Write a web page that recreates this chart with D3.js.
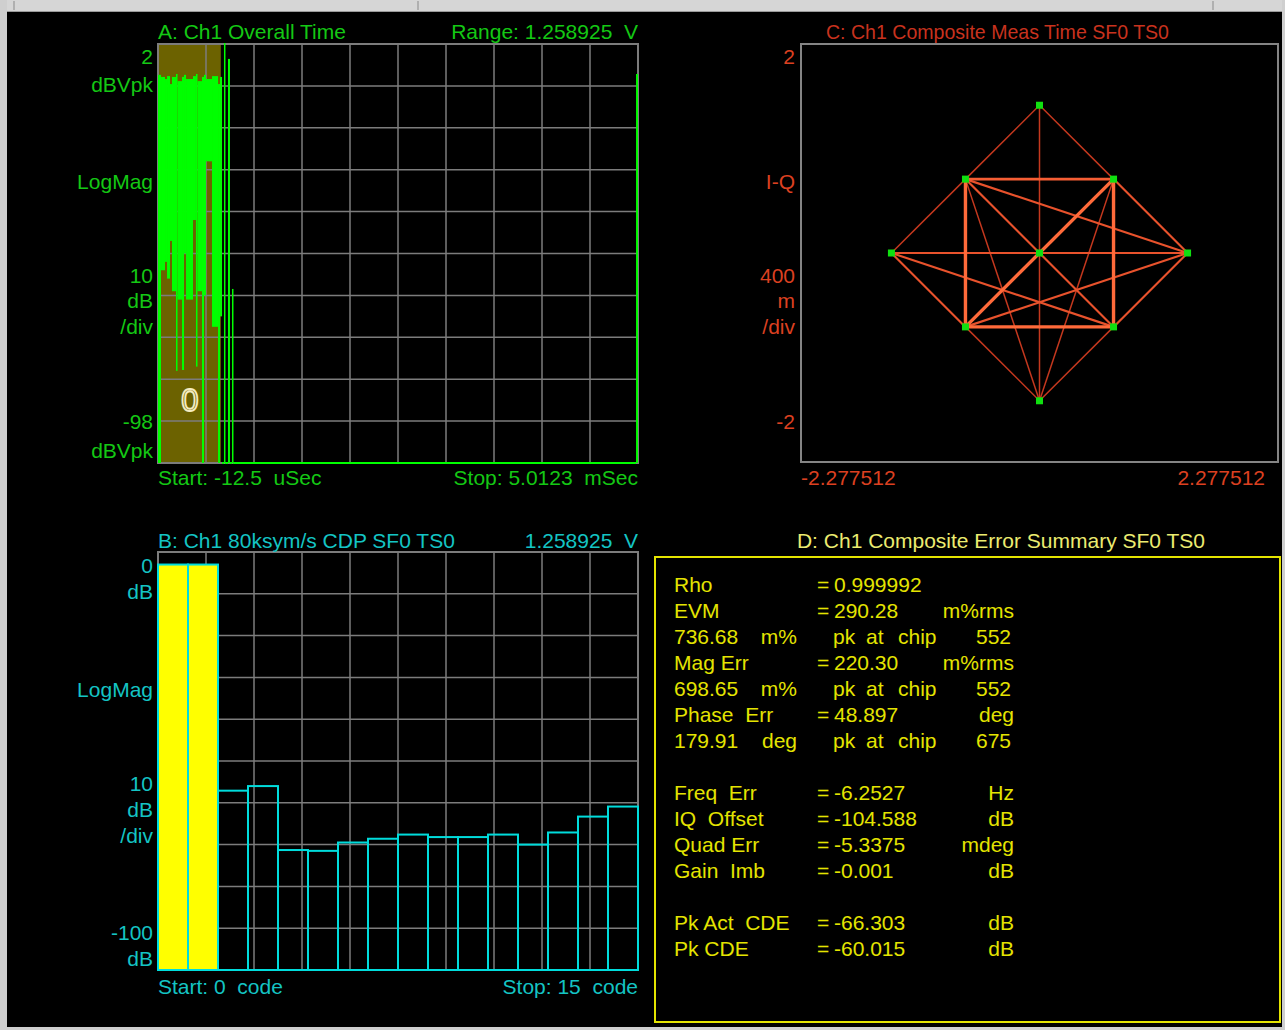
<!DOCTYPE html>
<html>
<head>
<meta charset="utf-8">
<script src="https://cdn.jsdelivr.net/npm/d3@7"></script>
<style>
  html, body { margin: 0; padding: 0; background: #000; }
  svg { display: block; }
  text {
    font-family: "Liberation Sans", Arial, sans-serif;
    font-size: 21px;
    white-space: pre;
  }
</style>
</head>
<body>
<svg id="chart" width="1285" height="1030"></svg>
<script>
// ---------------- Trace A: Ch1 overall time (LogMag, dBVpk) ----------------
const timeSpan = [-12.5, 5012.3];          // uSec, start / stop
const levelSpan = [2, -98];                // dBVpk, top / bottom
const gateSpan = [-12.5, 645];             // uSec, time gate (shaded)
// binned envelope of the time record: bin start (uSec), peak and floor (dBVpk)
const traceTime  = [-12.5, 19, 61, 82, 113, 134, 176, 192, 239, 260, 281, 354, 385, 401, 448, 469, 490, 553, 616, 637, 658, 678, 689, 720, 741, 762, 773, 4992];
const tracePeak  = [-5.6, -6.1, -6.6, -5.9, -7.8, -6.1, -5.4, -7.1, -6.1, -5.6, -6.6, -5.9, -5.4, -7.1, -6.1, -5.6, -6.6, -5.9, -7.8, -6.1, -98, 2, -98, -1.8, -98, -56.7, -98, -5.4];
const traceFloor = [-98, -52, -50, -54, -45, -57, -76, -59, -75.8, -48, -59, -40, -75, -57, -98, -58, -26, -65.5, -98, -63, -98, -98, -98, -98, -98, -98, -98, -98];
const markerA = { time: 320, level: -83, label: "0" };

// ---------------- Trace B: code domain power (dB) ----------------
const codeIndex = [0, 1, 2, 3, 4, 5, 6, 7, 8, 9, 10, 11, 12, 13, 14, 15];
const codePower = [-3.0, -3.0, -57.1, -56.0, -71.3, -71.5, -69.5, -68.6, -67.6, -68.2, -68.2, -67.6, -70.0, -67.1, -63.3, -60.9];
const activeCodes = [0, 1];
const cdpSpan = [0, -100];                 // dB, top / bottom

// ---------------- Trace C: composite constellation (I-Q) ----------------
const iqSpanI = [-2.277512, 2.277512];
const iqSpanQ = [-2, 2];
const symbolI = [0, -0.707, 0.707, -1.414, 0, 1.414, -0.707, 0.707, 0];
const symbolQ = [1.414, 0.707, 0.707, 0, 0, 0, -0.707, -0.707, -1.414];
// symbol-to-symbol transitions: [from, to, relative hit count]
const transitions = [
  [0, 1, 1], [0, 2, 1], [0, 8, 1],
  [1, 3, 1], [3, 6, 2], [2, 5, 2], [5, 7, 2],
  [8, 6, 1], [8, 7, 1], [8, 1, 1], [8, 2, 1],
  [1, 5, 2], [3, 7, 2], [6, 5, 2],
  [3, 5, 2], [1, 7, 2],
  [1, 2, 3], [6, 7, 4], [1, 6, 4], [2, 7, 4], [2, 6, 4]
];

// ---------------- Table D: composite error summary ----------------
const summaryLabels = ["Rho", "EVM", "736.68", "Mag Err", "698.65", "Phase  Err", "179.91", "", "Freq  Err", "IQ  Offset", "Quad Err", "Gain  Imb", "", "Pk Act  CDE", "Pk CDE"];
const summaryValues = ["0.999992", "290.28", "", "220.30", "", "48.897", "", "", "-6.2527", "-104.588", "-5.3375", "-0.001", "", "-66.303", "-60.015"];
const summaryUnits  = ["", "m%rms", "m%", "m%rms", "m%", "deg", "deg", "", "Hz", "dB", "mdeg", "dB", "", "dB", "dB"];
const summaryChips  = ["", "", "552", "", "552", "", "675", "", "", "", "", "", "", "", ""];

// ---------------- drawing ----------------
const svg = d3.select("#chart");
const W = 1285, H = 1030;
const GRID = "#7c7c7c";
const GREEN = "#14c814", TRACE_GREEN = "#00ff00";
const CYAN = "#14c4c4", BAR_CYAN = "#00dcdc";
const RED = "#dc4020";
const YELLOW = "#e4e400";

svg.append("rect").attr("width", W).attr("height", H).attr("fill", "#000");

// window chrome
svg.append("rect").attr("x", 0).attr("y", 0).attr("width", W).attr("height", 11).attr("fill", "#d6d6d6");
svg.append("line").attr("x1", 0).attr("x2", W).attr("y1", 11.5).attr("y2", 11.5).attr("stroke", "#9a9a9a");
svg.append("rect").attr("x", 0).attr("y", 0).attr("width", 7).attr("height", H).attr("fill", "#cfcfcf");
svg.append("rect").attr("x", 1282).attr("y", 0).attr("width", 3).attr("height", H).attr("fill", "#cfcfcf");
svg.append("rect").attr("x", 0).attr("y", 1027).attr("width", W).attr("height", 3).attr("fill", "#cfcfcf");
[14, 418, 1213].forEach(a => {
  svg.append("line").attr("x1", a).attr("x2", a).attr("y1", 1).attr("y2", 10).attr("stroke", "#8a8a8a");
});

function grid(g, x0, x1, y0, y1) {
  const xs = d3.range(11).map(i => x0 + (x1 - x0) * i / 10);
  const ys = d3.range(11).map(i => y0 + (y1 - y0) * i / 10);
  g.selectAll("line.v").data(xs).join("line").attr("class", "v")
    .attr("x1", d => d).attr("x2", d => d).attr("y1", y0).attr("y2", y1)
    .attr("stroke", GRID).attr("stroke-width", 1.5);
  g.selectAll("line.h").data(ys).join("line").attr("class", "h")
    .attr("x1", x0).attr("x2", x1).attr("y1", d => d).attr("y2", d => d)
    .attr("stroke", GRID).attr("stroke-width", 1.5);
}

function sideLabels(items, x, top, color) {
  items.forEach(([txt, dy]) => {
    svg.append("text").attr("x", x).attr("y", top + dy).attr("text-anchor", "end")
      .attr("fill", color).text(txt);
  });
}

// ===== Panel A =====
const A = { x0: 158, x1: 638, y0: 44, y1: 463 };
const xA = d3.scaleLinear().domain(timeSpan).range([A.x0, A.x1]);
const yA = d3.scaleLinear().domain(levelSpan).range([A.y0, A.y1]);
const gA = svg.append("g");
gA.append("rect").attr("x", xA(gateSpan[0])).attr("y", A.y0)
  .attr("width", xA(gateSpan[1]) - xA(gateSpan[0])).attr("height", A.y1 - A.y0)
  .attr("fill", "#6c6200");
grid(gA, A.x0, A.x1, A.y0, A.y1);
gA.append("rect").attr("x", A.x0).attr("y", A.y0).attr("width", A.x1 - A.x0).attr("height", A.y1 - A.y0)
  .attr("fill", "none").attr("stroke", GRID).attr("stroke-width", 2);

const bins = traceTime.map((t, i) => ({
  t0: t, t1: i + 1 < traceTime.length ? traceTime[i + 1] : timeSpan[1],
  peak: tracePeak[i], floor: traceFloor[i]
}));
gA.selectAll("rect.bin").data(bins).join("rect").attr("class", "bin")
  .attr("x", d => xA(d.t0))
  .attr("width", d => Math.max(1.5, xA(d.t1) - xA(d.t0)))
  .attr("y", d => yA(d.peak) - 1)
  .attr("height", d => Math.max(2, yA(d.floor) - yA(d.peak) + 1))
  .attr("fill", TRACE_GREEN);

gA.append("text").attr("x", xA(markerA.time)).attr("y", yA(markerA.level) + 11)
  .attr("text-anchor", "middle").attr("fill", "none").attr("stroke", "#f4ecc0")
  .attr("stroke-width", 1.8).style("font-size", "31px").text(markerA.label);

svg.append("text").attr("x", A.x0).attr("y", 39).attr("fill", GREEN).text("A: Ch1 Overall Time");
svg.append("text").attr("x", A.x1).attr("y", 39).attr("text-anchor", "end").attr("fill", GREEN).text("Range: 1.258925  V");
sideLabels([["2", 20], ["dBVpk", 48], ["LogMag", 145], ["10", 239], ["dB", 264], ["/div", 290], ["-98", 385], ["dBVpk", 414]], 153, A.y0, GREEN);
svg.append("text").attr("x", A.x0).attr("y", 485).attr("fill", GREEN).text("Start: -12.5  uSec");
svg.append("text").attr("x", A.x1).attr("y", 485).attr("text-anchor", "end").attr("fill", GREEN).text("Stop: 5.0123  mSec");

// ===== Panel B =====
const B = { x0: 158, x1: 638, y0: 552, y1: 970 };
const xB = d3.scaleLinear().domain([codeIndex[0], codeIndex[codeIndex.length - 1] + 1]).range([B.x0, B.x1]);
const yB = d3.scaleLinear().domain(cdpSpan).range([B.y0, B.y1]);
const gB = svg.append("g");
grid(gB, B.x0, B.x1, B.y0, B.y1);
gB.append("rect").attr("x", B.x0).attr("y", B.y0).attr("width", B.x1 - B.x0).attr("height", B.y1 - B.y0)
  .attr("fill", "none").attr("stroke", GRID).attr("stroke-width", 2);
gB.selectAll("rect.bar").data(codeIndex).join("rect").attr("class", "bar")
  .attr("x", d => xB(d))
  .attr("width", d => xB(d + 1) - xB(d))
  .attr("y", d => yB(codePower[d]))
  .attr("height", d => B.y1 - yB(codePower[d]))
  .attr("fill", d => activeCodes.includes(d) ? "#ffff00" : "none")
  .attr("stroke", BAR_CYAN).attr("stroke-width", 2);

svg.append("text").attr("x", B.x0).attr("y", 548).attr("fill", CYAN).text("B: Ch1 80ksym/s CDP SF0 TS0");
svg.append("text").attr("x", B.x1).attr("y", 548).attr("text-anchor", "end").attr("fill", CYAN).text("1.258925  V");
sideLabels([["0", 21], ["dB", 47], ["LogMag", 145], ["10", 239], ["dB", 265], ["/div", 291], ["-100", 388], ["dB", 414]], 153, B.y0, CYAN);
svg.append("text").attr("x", B.x0).attr("y", 994).attr("fill", CYAN).text("Start: 0  code");
svg.append("text").attr("x", B.x1).attr("y", 994).attr("text-anchor", "end").attr("fill", CYAN).text("Stop: 15  code");

// ===== Panel C =====
const C = { x0: 801, x1: 1278, y0: 44, y1: 462 };
const xC = d3.scaleLinear().domain(iqSpanI).range([C.x0, C.x1]);
const yC = d3.scaleLinear().domain(iqSpanQ).range([C.y1, C.y0]);
const gC = svg.append("g");
gC.append("rect").attr("x", C.x0).attr("y", C.y0).attr("width", C.x1 - C.x0).attr("height", C.y1 - C.y0)
  .attr("fill", "none").attr("stroke", "#848484").attr("stroke-width", 2);
const hitColor = d3.scaleOrdinal().domain([1, 2, 3, 4]).range(["#c4381e", "#e8522c", "#f65e34", "#ff6a3a"]);
const hitWidth = d3.scaleLinear().domain([1, 4]).range([1.5, 3.4]);
gC.selectAll("line.tr").data(transitions).join("line").attr("class", "tr")
  .attr("x1", d => xC(symbolI[d[0]])).attr("y1", d => yC(symbolQ[d[0]]))
  .attr("x2", d => xC(symbolI[d[1]])).attr("y2", d => yC(symbolQ[d[1]]))
  .attr("stroke", d => hitColor(d[2])).attr("stroke-width", d => hitWidth(d[2]));
gC.selectAll("rect.sym").data(symbolI.map((v, i) => i)).join("rect").attr("class", "sym")
  .attr("x", i => xC(symbolI[i]) - 3.5).attr("y", i => yC(symbolQ[i]) - 3.5)
  .attr("width", 7).attr("height", 7).attr("fill", "#10e010");

svg.append("text").attr("x", C.x0 + 25).attr("y", 39).attr("fill", "#c8321e")
  .attr("textLength", 343).attr("lengthAdjust", "spacingAndGlyphs")
  .text("C: Ch1 Composite Meas Time SF0 TS0");
sideLabels([["2", 20], ["I-Q", 145], ["400", 239], ["m", 264], ["/div", 290], ["-2", 385]], 795, C.y0, RED);
svg.append("text").attr("x", C.x0).attr("y", 485).attr("fill", RED).text("-2.277512");
svg.append("text").attr("x", 1265).attr("y", 485).attr("text-anchor", "end").attr("fill", RED).text("2.277512");

// ===== Panel D =====
const D = { x0: 655, x1: 1280, y0: 557, y1: 1022 };
svg.append("rect").attr("x", D.x0).attr("y", D.y0).attr("width", D.x1 - D.x0).attr("height", D.y1 - D.y0)
  .attr("fill", "none").attr("stroke", YELLOW).attr("stroke-width", 2);
svg.append("text").attr("x", 1001).attr("y", 548).attr("text-anchor", "middle").attr("fill", "#ecec70")
  .text("D: Ch1 Composite Error Summary SF0 TS0");
const rowY = i => 592 + i * 26;
summaryLabels.forEach((lab, i) => {
  if (!lab) return;
  const y = rowY(i);
  svg.append("text").attr("x", 674).attr("y", y).attr("fill", YELLOW).text(lab);
  if (summaryChips[i]) {
    svg.append("text").attr("x", 797).attr("y", y).attr("text-anchor", "end").attr("fill", YELLOW).text(summaryUnits[i]);
    svg.append("text").attr("x", 833).attr("y", y).attr("fill", YELLOW).text("pk");
    svg.append("text").attr("x", 866).attr("y", y).attr("fill", YELLOW).text("at");
    svg.append("text").attr("x", 898).attr("y", y).attr("fill", YELLOW).text("chip");
    svg.append("text").attr("x", 1011).attr("y", y).attr("text-anchor", "end").attr("fill", YELLOW).text(summaryChips[i]);
  } else {
    svg.append("text").attr("x", 817).attr("y", y).attr("fill", YELLOW).text("=");
    svg.append("text").attr("x", 834).attr("y", y).attr("fill", YELLOW).text(summaryValues[i]);
    if (summaryUnits[i]) {
      svg.append("text").attr("x", 1014).attr("y", y).attr("text-anchor", "end").attr("fill", YELLOW).text(summaryUnits[i]);
    }
  }
});
</script>
</body>
</html>
